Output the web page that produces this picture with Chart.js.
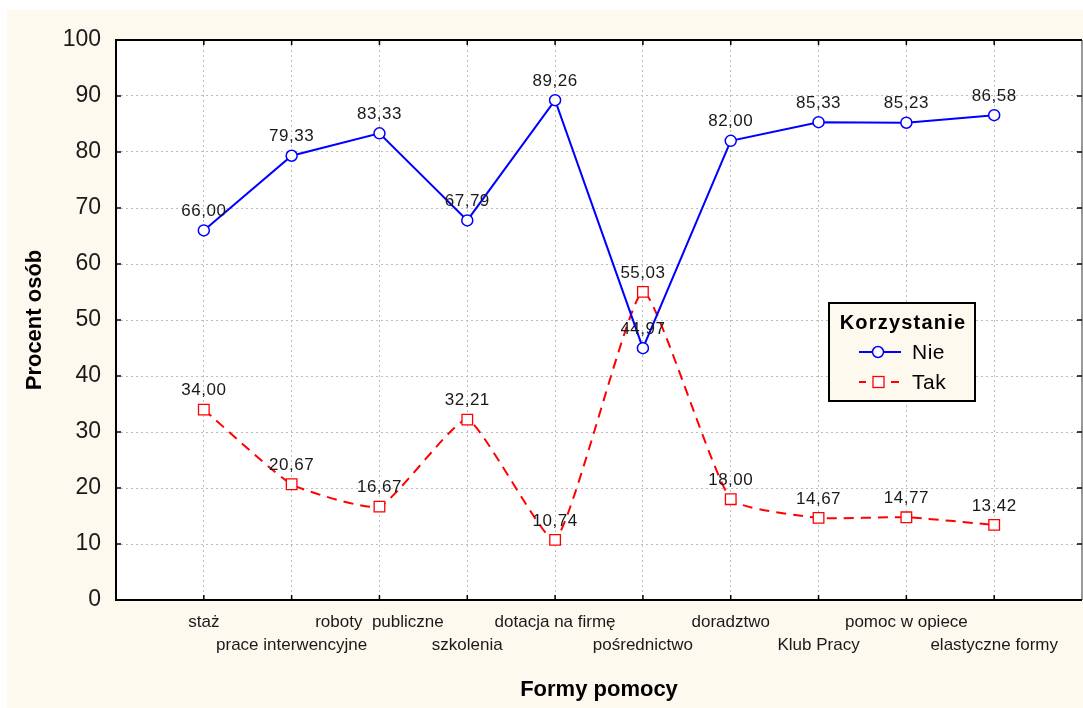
<!DOCTYPE html>
<html lang="pl">
<head>
<meta charset="UTF-8">
<title>Formy pomocy - Korzystanie</title>
<script src="https://cdn.jsdelivr.net/npm/chart.js@4.4.0/dist/chart.umd.min.js"></script>
<style>
  html, body { margin: 0; padding: 0; background: #fff; }
  #wrap { width: 1083px; height: 708px; }
</style>
</head>
<body>
<div id="wrap"><canvas id="chart" width="1083" height="708"></canvas></div>
<script>
  // categories on the x axis (first line / second line alternate)
  var categories = ['staż', 'prace interwencyjne', 'roboty  publiczne', 'szkolenia',
    'dotacja na firmę', 'pośrednictwo', 'doradztwo', 'Klub Pracy',
    'pomoc w opiece', 'elastyczne formy'];
  var nie = [66.00, 79.33, 83.33, 67.79, 89.26, 44.97, 82.00, 85.33, 85.23, 86.58];
  var tak = [34.00, 20.67, 16.67, 32.21, 10.74, 55.03, 18.00, 14.67, 14.77, 13.42];

  var cream = '#fdf9ef';
  var font = 'Arial, "Liberation Sans", sans-serif';

  // points sit well inside the x range, so no extra layout room for markers
  Chart.LineController.prototype.getMaxOverflow = function () { return 0; };

  function points(arr) {
    return arr.map(function (v, i) { return { x: i + 1, y: v }; });
  }
  function fmt(v) { return v.toFixed(2).replace('.', ','); }

  // page background, cream panel and white plot area
  var backdrop = {
    id: 'backdrop',
    beforeDraw: function (chart) {
      var c = chart.ctx, a = chart.chartArea;
      c.save();
      c.fillStyle = '#fff';
      c.fillRect(0, 0, chart.width, chart.height);
      c.fillStyle = cream;
      c.fillRect(7, 10, chart.width - 7, chart.height - 10);
      c.fillStyle = '#fff';
      c.fillRect(a.left, a.top, a.right - a.left, a.bottom - a.top);
      c.restore();
    }
  };

  // frame with inward tick marks, value labels and the legend box
  var extras = {
    id: 'extras',
    afterDraw: function (chart) {
      var c = chart.ctx, a = chart.chartArea;
      var xs = chart.scales.x, ys = chart.scales.y;
      c.save();
      // frame
      c.lineWidth = 2;
      c.strokeStyle = '#999';
      c.beginPath(); c.moveTo(a.right, a.top); c.lineTo(a.right, a.bottom); c.stroke();
      c.strokeStyle = '#000';
      c.beginPath();
      c.moveTo(a.right, a.top); c.lineTo(a.left, a.top);
      c.lineTo(a.left, a.bottom); c.lineTo(a.right, a.bottom);
      c.stroke();
      // ticks
      c.lineWidth = 1.5;
      c.beginPath();
      for (var i = 1; i <= 10; i++) {
        var px = xs.getPixelForValue(i);
        c.moveTo(px, a.top); c.lineTo(px, a.top + 5);
        c.moveTo(px, a.bottom); c.lineTo(px, a.bottom - 5);
      }
      for (var v = 10; v < 100; v += 10) {
        var py = ys.getPixelForValue(v);
        c.moveTo(a.left, py); c.lineTo(a.left + 5, py);
        c.moveTo(a.right, py); c.lineTo(a.right - 5, py);
      }
      c.stroke();

      // value labels above each point
      c.fillStyle = '#1a1a1a';
      c.font = '17px ' + font;
      c.letterSpacing = '0.5px';
      c.textAlign = 'center';
      c.textBaseline = 'middle';
      chart.data.datasets.forEach(function (ds, di) {
        var meta = chart.getDatasetMeta(di);
        meta.data.forEach(function (pt, j) {
          c.fillText(fmt(ds.data[j].y), pt.x, pt.y - 19);
        });
      });

      // legend
      var lx = 829, ly = 303, lw = 146, lh = 98;
      c.fillStyle = cream;
      c.fillRect(lx, ly, lw, lh);
      c.lineWidth = 2;
      c.strokeStyle = '#000';
      c.strokeRect(lx, ly, lw, lh);
      c.fillStyle = '#000';
      c.font = 'bold 20px ' + font;
      c.letterSpacing = '1.2px';
      c.fillText('Korzystanie', lx + lw / 2 + 1, ly + 20);

      c.textAlign = 'left';
      c.font = '21px ' + font;
      c.letterSpacing = '0.5px';
      // Nie
      var ry = ly + 49;
      c.strokeStyle = '#0000ff';
      c.lineWidth = 2;
      c.beginPath(); c.moveTo(lx + 30, ry); c.lineTo(lx + 72, ry); c.stroke();
      c.fillStyle = '#fff';
      c.beginPath(); c.arc(lx + 49, ry, 5.5, 0, Math.PI * 2); c.fill();
      c.lineWidth = 1.5; c.stroke();
      c.fillStyle = '#000';
      c.fillText('Nie', lx + 83, ry + 1);
      // Tak
      ry = ly + 79;
      c.strokeStyle = '#ff0000';
      c.lineWidth = 2;
      c.beginPath();
      c.moveTo(lx + 30, ry); c.lineTo(lx + 37, ry);
      c.moveTo(lx + 62, ry); c.lineTo(lx + 70, ry);
      c.stroke();
      c.fillStyle = '#fff';
      c.fillRect(lx + 44, ry - 5.5, 11, 11);
      c.lineWidth = 1.3;
      c.strokeRect(lx + 44, ry - 5.5, 11, 11);
      c.fillStyle = '#000';
      c.fillText('Tak', lx + 83, ry + 1);
      c.restore();
    }
  };

  var ctx = document.getElementById('chart').getContext('2d');
  var chart = new Chart(ctx, {
    type: 'line',
    data: {
      datasets: [{
        label: 'Nie',
        data: points(nie),
        borderColor: '#0000ff',
        borderWidth: 2,
        backgroundColor: '#fff',
        pointStyle: 'circle',
        pointRadius: 5.5,
        pointBorderWidth: 1.5,
        pointBorderColor: '#0000ff',
        pointBackgroundColor: '#fff',
        tension: 0
      }, {
        label: 'Tak',
        data: points(tak),
        borderColor: '#ff0000',
        borderWidth: 2,
        borderDash: [10, 7],
        backgroundColor: '#fff',
        pointStyle: 'rect',
        pointRadius: 7.5,
        pointBorderWidth: 1.3,
        pointBorderColor: '#ff0000',
        pointBackgroundColor: '#fff',
        tension: 0.15
      }]
    },
    options: {
      responsive: false,
      animation: false,
      layout: { padding: { left: 0, right: 1, top: 40, bottom: 0 } },
      plugins: {
        legend: { display: false },
        tooltip: { enabled: false }
      },
      scales: {
        x: {
          type: 'linear',
          min: 0,
          max: 11,
          afterFit: function (s) {
            s.height = 108;
            s.paddingLeft = 0;
            s.paddingRight = 0;
          },
          afterBuildTicks: function (s) {
            s.ticks = [];
            for (var i = 0; i <= 11; i++) s.ticks.push({ value: i });
          },
          // invisible tick marks only make room between axis and labels
          grid: { color: '#bdbdbd', lineWidth: 1, drawTicks: true, tickLength: 11, tickColor: 'rgba(0,0,0,0)' },
          border: { display: false, dash: [2, 3] },
          ticks: {
            autoSkip: false,
            maxRotation: 0,
            padding: 0,
            color: '#1a1a1a',
            font: { family: font, size: 17, lineHeight: 1.35 },
            callback: function (v) {
              var name = categories[v - 1];
              if (!name) return '';
              return (v % 2 === 1) ? [name, ''] : ['', name];
            }
          },
          title: {
            display: true,
            text: 'Formy pomocy',
            color: '#000',
            font: { family: font, size: 22, weight: 'bold' },
            padding: { top: 0, bottom: 5 }
          }
        },
        y: {
          min: 0,
          max: 100,
          afterFit: function (s) {
            s.width = 116;
            s.paddingTop = 0;
            s.paddingBottom = 0;
          },
          grid: { color: '#bdbdbd', lineWidth: 1, drawTicks: false },
          border: { display: false, dash: [2, 3] },
          ticks: {
            stepSize: 10,
            padding: 15,
            color: '#1a1a1a',
            font: { family: font, size: 23 }
          },
          title: {
            display: true,
            text: 'Procent osób',
            color: '#000',
            font: { family: font, size: 22, weight: 'bold' },
            padding: { top: 22, bottom: 0 }
          }
        }
      }
    },
    plugins: [backdrop, extras]
  });
</script>
</body>
</html>
